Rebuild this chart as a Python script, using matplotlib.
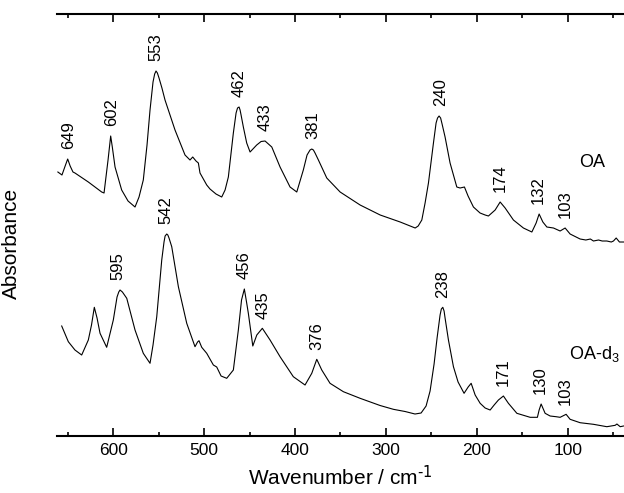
"""Far-IR absorbance spectra of OA and OA-d3 (stacked, offset traces).

Values were read off the published figure; absorbance is in arbitrary
units with the deuterated trace sitting below the parent compound.
Writes out.png.
"""
import numpy as np
import matplotlib.pyplot as plt

plt.rcParams["font.family"] = ["Liberation Sans", "DejaVu Sans"]
plt.rcParams["mathtext.default"] = "regular"

OUT_PNG = "out.png"

# OA trace (wavenumber / cm-1, absorbance a.u.)
oa_wn = [661, 656.5, 653.0, 650.2, 647.5, 644.4, 642.2, 627.5, 612.8, 610.2,
         605.8, 602.9, 601.1, 598.1, 590.8, 583.8, 576.1, 571.7, 567.0, 562.9,
         559.6, 556.3, 554.5, 553.0, 551.5, 549.7, 546.5, 543.1, 532.1, 521.1,
         515.6, 512.6, 509.0, 506.4, 504.6, 497.2, 493.6, 487.0, 480.7, 477.0,
         473.4, 467.9, 464.9, 463.3, 461.6, 460.5, 459.4, 456.9, 453.2, 449.5,
         442.2, 437.4, 433.0, 425.6, 416.5, 405.5, 398.1, 390.9, 386.8, 383.5,
         381.6, 379.8, 378.0, 374.3, 365.1, 350.4, 328.4, 306.3, 284.3, 267.8,
         264.5, 260.5, 256.9, 253.2, 247.7, 244.8, 243.2, 241.5, 239.8, 238.2,
         234.9, 229.4, 222.0, 218.4, 213.6, 209.6, 203.7, 196.4, 190.8, 187.2,
         179.8, 174.3, 168.8, 159.7, 148.7, 139.4, 134.7, 131.4, 127.3, 122.9,
         115.6, 108.3, 102.8, 97.3, 86.3, 80.0, 75.0, 71.6, 66.0, 62.0,
         56.9, 52.0, 49.6, 46.6, 43.0, 38.6]
oa_abs = [2.64, 2.61, 2.70, 2.77, 2.70, 2.64, 2.63, 2.54, 2.44, 2.43,
          2.76, 3.00, 2.89, 2.69, 2.46, 2.35, 2.29, 2.39, 2.56, 2.91,
          3.26, 3.54, 3.62, 3.65, 3.63, 3.58, 3.48, 3.36, 3.06, 2.81,
          2.76, 2.79, 2.75, 2.73, 2.63, 2.51, 2.47, 2.42, 2.39, 2.46,
          2.59, 3.03, 3.23, 3.28, 3.29, 3.26, 3.21, 3.09, 2.93, 2.84,
          2.91, 2.945, 2.95, 2.89, 2.69, 2.49, 2.44, 2.66, 2.81, 2.86,
          2.87, 2.86, 2.83, 2.76, 2.58, 2.44, 2.31, 2.21, 2.14, 2.08,
          2.10, 2.16, 2.33, 2.53, 2.93, 3.13, 3.18, 3.20, 3.18, 3.12,
          2.99, 2.73, 2.49, 2.48, 2.49, 2.40, 2.29, 2.23, 2.21, 2.20,
          2.26, 2.34, 2.28, 2.16, 2.08, 2.04, 2.13, 2.22, 2.14, 2.09,
          2.08, 2.05, 2.08, 2.02, 1.97, 1.96, 1.97, 1.95, 1.96, 1.95,
          1.95, 1.94, 1.95, 1.98, 1.94, 1.94]

# OA-d3 trace
oad3_wn = [656.8, 649.5, 642.2, 634.8, 627.5, 624.0, 620.9, 617.9, 614.6, 607.3,
           600.0, 595.9, 594.0, 592.6, 590.0, 585.2, 576.1, 567.0, 559.6, 556.3,
           552.2, 546.7, 544.2, 543.0, 541.2, 540.0, 538.7, 535.7, 528.4, 519.2,
           510.1, 507.3, 505.7, 502.7, 497.2, 489.9, 486.2, 481.4, 475.2, 467.9,
           462.4, 458.9, 455.8, 453.4, 451.4, 446.5, 442.1, 436.0, 427.5, 416.5,
           401.9, 389.0, 381.6, 376.1, 370.6, 361.5, 346.8, 328.4, 306.4, 291.8,
           278.9, 268.0, 261.3, 255.8, 251.4, 247.0, 243.7, 240.4, 239.0, 237.4,
           236.0, 234.9, 231.2, 225.7, 220.6, 214.0, 209.5, 206.2, 201.8, 196.3,
           190.8, 185.3, 180.9, 176.2, 170.7, 165.2, 155.9, 141.3, 133.3, 131.4,
           129.2, 124.8, 119.3, 112.7, 108.3, 101.7, 97.3, 86.3, 71.6, 56.9,
           47.7, 45.8, 42.2, 38.6]
oad3_abs = [1.10, 0.943, 0.86, 0.81, 0.96, 1.11, 1.287, 1.18, 1.027, 0.887,
            1.16, 1.39, 1.44, 1.46, 1.44, 1.377, 1.06, 0.827, 0.727, 0.91,
            1.193, 1.76, 1.94, 2.00, 2.02, 2.01, 1.98, 1.893, 1.493, 1.127,
            0.893, 0.94, 0.953, 0.887, 0.827, 0.71, 0.69, 0.60, 0.577, 0.66,
            1.06, 1.36, 1.47, 1.34, 1.227, 0.90, 1.01, 1.077, 0.96, 0.793,
            0.593, 0.51, 0.627, 0.767, 0.66, 0.527, 0.443, 0.377, 0.305, 0.267,
            0.245, 0.22, 0.23, 0.30, 0.45, 0.72, 0.98, 1.21, 1.27, 1.287,
            1.25, 1.18, 0.96, 0.693, 0.54, 0.427, 0.49, 0.527, 0.41, 0.327,
            0.28, 0.26, 0.31, 0.36, 0.40, 0.327, 0.227, 0.187, 0.187, 0.26,
            0.32, 0.227, 0.20, 0.193, 0.187, 0.217, 0.167, 0.133, 0.117, 0.093,
            0.107, 0.12, 0.093, 0.10]

oa_peaks = [649, 602, 553, 462, 433, 381, 240, 174, 132, 103]
oad3_peaks = [595, 542, 456, 435, 376, 238, 171, 130, 103]


def label_peaks(ax, wn, ab, peaks, pad=7):
    wn = np.asarray(wn)
    ab = np.asarray(ab)
    for p in peaks:
        near = np.abs(wn - p) <= 6
        top = ab[near].max()
        ax.annotate(str(p), xy=(p, top), xytext=(0, pad),
                    textcoords="offset points", rotation=90,
                    ha="center", va="bottom", fontsize=12)


def main():
    fig = plt.figure(figsize=(6.24, 4.93), dpi=100)
    ax = fig.add_axes([0.0913, 0.1156, 0.9087, 0.856])

    ax.plot(oa_wn, oa_abs, color="black", lw=0.8)
    ax.plot(oad3_wn, oad3_abs, color="black", lw=0.8)

    label_peaks(ax, oa_wn, oa_abs, oa_peaks)
    label_peaks(ax, oad3_wn, oad3_abs, oad3_peaks)

    ax.text(73, 2.74, "OA", fontsize=13, ha="center", va="center")
    ax.text(98.5, 0.82, "OA-d$_3$", fontsize=13, ha="left", va="center")

    ax.set_xlim(662, 38)
    ax.set_ylim(0, 4.22)
    ax.set_xticks([600, 500, 400, 300, 200, 100])
    ax.set_xticks(np.arange(650, 40, -100), minor=True)
    ax.set_yticks([])

    ax.spines["left"].set_visible(False)
    ax.spines["right"].set_visible(False)
    for side in ("top", "bottom"):
        ax.spines[side].set_linewidth(1.5)
    ax.tick_params(axis="x", which="both", direction="in", top=True,
                   width=1.2, labelsize=12.5, pad=5)
    ax.tick_params(axis="x", which="major", length=6)
    ax.tick_params(axis="x", which="minor", length=3)

    ax.set_xlabel(r"Wavenumber / cm$^{\text{-1}}$", fontsize=15, labelpad=5)
    ax.set_ylabel("Absorbance", fontsize=15)
    ax.yaxis.set_label_coords(-0.063, 0.457)

    fig.savefig(OUT_PNG)


if __name__ == "__main__":
    main()
